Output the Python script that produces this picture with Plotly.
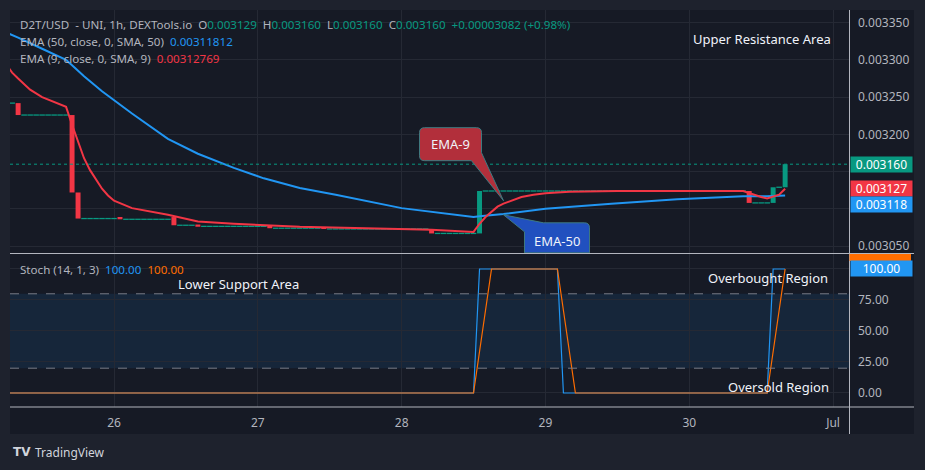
import pandas as pd
import plotly.graph_objects as go

# ---------------- data (hour index k, k=0 -> 25 Jun 08:00) ----------------
T0 = pd.Timestamp("2023-06-25 08:00")

bar_k = [0, 9, 10, 17, 26, 30, 42, 51, 69, 77, 122, 126, 128]
bar_open = [0.003242, 0.003226, 0.003122, 0.003088, 0.003089, 0.003079, 0.003077,
            0.003074, 0.003073, 0.003067, 0.003124, 0.003108, 0.003129]
bar_close = [0.003226, 0.003122, 0.003087, 0.003086, 0.003078, 0.003076, 0.003074,
             0.003073, 0.003067, 0.003124, 0.003108, 0.003129, 0.003160]

# flat (o=h=l=c) candle runs: first k, last k, price
flat_start = [-1, 1, 11, 18, 27, 31, 43, 52, 70, 78, 123, 127]
flat_end = [-1, 8, 16, 25, 29, 41, 50, 68, 76, 121, 125, 127]
flat_price = [0.003242, 0.003226, 0.003087, 0.003086, 0.003078, 0.0030765, 0.003074,
              0.003073, 0.003067, 0.003124, 0.003108, 0.003129]

ema9_k = [-2, -1, 0, 2, 4, 6, 8, 9, 10, 11, 12, 13, 14, 15, 16, 19, 25, 30, 36, 47, 60,
          69, 76, 77, 78, 79, 80, 81, 82, 84, 86, 88, 92, 100, 121, 122, 123, 124, 125,
          126, 127, 128]
ema9_v = [0.003294, 0.003283, 0.003275, 0.003260, 0.003250, 0.003243, 0.003237, 0.003213,
          0.003190, 0.003168, 0.003152, 0.003140, 0.003127, 0.003118, 0.003111, 0.003101,
          0.003092, 0.003083, 0.003080, 0.003076, 0.003074, 0.003072, 0.003069, 0.003080,
          0.003089, 0.003096, 0.003103, 0.003107, 0.003110, 0.003116, 0.003119, 0.003121,
          0.003123, 0.003124, 0.003124, 0.003121, 0.003118, 0.003116, 0.003114, 0.003117,
          0.003119, 0.003127]

ema50_k = [-2, -1, 0, 4, 8, 9, 11, 14, 19, 25, 30, 36, 41, 47, 53, 64, 70, 76, 77, 81, 88,
           99, 110, 121, 125, 128]
ema50_v = [0.003337, 0.003334, 0.003330, 0.003315, 0.003300, 0.003293, 0.003278, 0.003258,
           0.003228, 0.003194, 0.003174, 0.003155, 0.003141, 0.003128, 0.003119, 0.003101,
           0.003095, 0.003089, 0.003090, 0.003093, 0.003100, 0.003107, 0.003113, 0.003117,
           0.003117, 0.003118]

stoch_k_hours = [-2, 76, 77, 90, 91, 125, 126, 128]
stoch_k_vals = [0, 0, 100, 100, 0, 0, 100, 100]
stoch_d_hours = [-2, 76, 79, 90, 93, 125, 128]
stoch_d_vals = [0, 0, 100, 100, 0, 0, 100]

price_ticks = [0.003050, 0.003100, 0.003150, 0.003200, 0.003250, 0.003300, 0.003350]
price_tick_text = ["0.003050", "", "", "0.003200", "0.003250", "0.003300", "0.003350"]
stoch_ticks = [0, 25, 50, 75, 100]
stoch_tick_text = ["0.00", "25.00", "50.00", "75.00", ""]
day_ticks = ["2023-06-26", "2023-06-27", "2023-06-28", "2023-06-29", "2023-06-30", "2023-07-01"]
day_labels = ["26", "27", "28", "29", "30", "Jul"]

ema9_label_k, ema9_label_p = 81, 0.003111
ema50_label_k, ema50_label_p = 81, 0.003092

# ---------------- styling ----------------
UP, DN = "#089981", "#f23645"
BLUE, ORANGE = "#2196f3", "#ff6d00"
BG, OUTER = "#161a25", "#1e222d"
GRID = "#252934"
TXT = "#b2b5be"
FONT = "Noto Sans"


def t(k):
    return T0 + pd.Timedelta(hours=k)


def px(x):  # pixel -> paper (plot area x 10..849)
    return (x - 10) / 839


def py(y):  # pixel -> paper (plot area y 10..407)
    return (407 - y) / 397


fig = go.Figure()

# candles with bodies
fig.add_trace(go.Bar(
    x=[t(k) for k in bar_k], base=bar_open,
    y=[c - o for o, c in zip(bar_open, bar_close)],
    width=3.6e6 * 0.83,
    marker=dict(color=[UP if c >= o else DN for o, c in zip(bar_open, bar_close)],
                line=dict(width=0)),
    xaxis="x", yaxis="y", hoverinfo="skip"))

# flat candles
fx, fy = [], []
for s, e, p in zip(flat_start, flat_end, flat_price):
    for k in range(s, e + 1):
        fx.append(t(k))
        fy.append(p)
fig.add_trace(go.Scatter(
    x=fx, y=fy, mode="markers",
    marker=dict(symbol="line-ew", size=4, line=dict(width=1.3, color=UP), color=UP),
    xaxis="x", yaxis="y", hoverinfo="skip"))

fig.add_trace(go.Scatter(x=[t(k) for k in ema50_k], y=ema50_v, mode="lines",
                         line=dict(color=BLUE, width=2), xaxis="x", yaxis="y"))
fig.add_trace(go.Scatter(x=[t(k) for k in ema9_k], y=ema9_v, mode="lines",
                         line=dict(color=DN, width=2), xaxis="x", yaxis="y"))

fig.add_trace(go.Scatter(x=[t(k) for k in stoch_k_hours], y=stoch_k_vals, mode="lines",
                         line=dict(color=BLUE, width=1.2), xaxis="x2", yaxis="y2"))
fig.add_trace(go.Scatter(x=[t(k) for k in stoch_d_hours], y=stoch_d_vals, mode="lines",
                         line=dict(color=ORANGE, width=1.2), xaxis="x2", yaxis="y2"))

x_range = [t(-1.357), t(138.66)]
p_lo = 0.00335 - (253 - 22.7) * 1.3429e-6
p_hi = 0.00335 - (10 - 22.7) * 1.3429e-6
s_lo = (393 - 407) / 1.24
s_hi = (393 - 254) / 1.24

axis_common = dict(type="date", range=x_range, showgrid=True, gridcolor=GRID, gridwidth=1,
                   zeroline=False, showline=False, tickvals=day_ticks, ticktext=day_labels)

fig.update_layout(
    width=925, height=470,
    margin=dict(l=10, r=76, t=10, b=63),
    paper_bgcolor=OUTER, plot_bgcolor=BG,
    showlegend=False, hovermode=False, barmode="overlay",
    font=dict(family=FONT, size=12, color=TXT),
    xaxis=dict(axis_common, domain=[0, 1], anchor="y", showticklabels=False, matches="x2"),
    xaxis2=dict(axis_common, domain=[0, 1], anchor="y2", showticklabels=True,
                tickfont=dict(size=12, color=TXT), ticks="", ticklabelstandoff=7),
    yaxis=dict(domain=[0.3879, 1], anchor="x", side="right", range=[p_lo, p_hi],
               tickvals=price_ticks, ticktext=price_tick_text,
               showgrid=True, gridcolor=GRID, zeroline=False, ticks="",
               ticklabelstandoff=8, tickfont=dict(size=12, color=TXT)),
    yaxis2=dict(domain=[0, 0.3854], anchor="x2", side="right", range=[s_lo, s_hi],
                tickvals=stoch_ticks, ticktext=stoch_tick_text,
                showgrid=True, gridcolor=GRID, zeroline=False, ticks="",
                ticklabelstandoff=8, tickfont=dict(size=12, color=TXT)),
)

shapes = []
# inner panel
shapes.append(dict(type="rect", xref="paper", yref="paper", x0=px(10), x1=px(914),
                   y0=py(434), y1=py(10), fillcolor=BG, line=dict(width=0), layer="below"))
# stoch band and levels
shapes.append(dict(type="rect", xref="x2 domain", yref="y2", x0=0, x1=1, y0=20, y1=80,
                   fillcolor="rgba(33,150,243,0.10)", line=dict(width=0), layer="below"))
for lvl in (80, 20):
    shapes.append(dict(type="line", xref="x2 domain", yref="y2", x0=0, x1=1, y0=lvl, y1=lvl,
                       line=dict(color="#787b86", width=1, dash="dash")))
# last price dotted line
shapes.append(dict(type="line", xref="x domain", yref="y", x0=0, x1=1,
                   y0=bar_close[-1], y1=bar_close[-1],
                   line=dict(color=UP, width=1, dash="dot")))
# pane separators / axis lines
SEP = "#b2b5be"
shapes.append(dict(type="line", xref="paper", yref="paper", x0=px(10), x1=px(914),
                   y0=py(253.5), y1=py(253.5), line=dict(color=SEP, width=1)))
shapes.append(dict(type="line", xref="paper", yref="paper", x0=px(10), x1=px(914),
                   y0=py(407), y1=py(407), line=dict(color=SEP, width=1)))
shapes.append(dict(type="line", xref="paper", yref="paper", x0=px(849.5), x1=px(849.5),
                   y0=py(434), y1=py(10), line=dict(color=SEP, width=1)))
# callouts (pixel paths anchored at the EMA points)
shapes.append(dict(type="path", xref="x", yref="y", xsizemode="pixel", ysizemode="pixel",
                   xanchor=t(ema9_label_k), yanchor=ema9_label_p,
                   path="M -79,73 L -27,73 Q -22,73 -22,68 L -22,48 L 0,0 L -32,40 "
                        "L -79,40 Q -84,40 -84,45 L -84,68 Q -84,73 -79,73 Z",
                   fillcolor="#b22f3b", line=dict(color="#3f7a80", width=1)))
shapes.append(dict(type="path", xref="x", yref="y", xsizemode="pixel", ysizemode="pixel",
                   xanchor=t(ema50_label_k), yanchor=ema50_label_p,
                   path="M 0,0 L 40,-8 L 81,-8 Q 86,-8 86,-13 L 86,-38 L 21,-38 L 21,-17 Z",
                   fillcolor="#2150bf", line=dict(color="#3f7a80", width=1)))
# orange stoch tag (mostly hidden)
shapes.append(dict(type="rect", xref="paper", yref="paper", x0=px(849.5), x1=px(911),
                   y0=py(261), y1=py(254), fillcolor=ORANGE, line=dict(width=0)))
fig.update_layout(shapes=shapes)

ann = []
G = lambda s: f"<span style='color:{UP}'>{s}</span>"
hdr = ("D2T/USD&nbsp;&nbsp;- UNI, 1h, DEXTools.io&nbsp;&nbsp;O" + G("0.003129") +
       "&nbsp;&nbsp;H" + G("0.003160") + "&nbsp;&nbsp;L" + G("0.003160") +
       "&nbsp;&nbsp;C" + G("0.003160") + "&nbsp;&nbsp;" + G("+0.00003082 (+0.98%)"))
ann.append(dict(text=hdr, x=px(18), y=py(24)))
ann.append(dict(text="EMA (50, close, 0, SMA, 50)&nbsp;&nbsp;"
                     f"<span style='color:{BLUE}'>0.00311812</span>", x=px(18), y=py(42)))
ann.append(dict(text="EMA (9, close, 0, SMA, 9)&nbsp;&nbsp;"
                     f"<span style='color:{DN}'>0.00312769</span>", x=px(18), y=py(59)))
ann.append(dict(text=f"Stoch (14, 1, 3)&nbsp;&nbsp;<span style='color:{BLUE}'>100.00</span>"
                     f"&nbsp;&nbsp;<span style='color:{ORANGE}'>100.00</span>",
                x=px(18), y=py(269)))
for a in ann:
    a.update(xref="paper", yref="paper", xanchor="left", yanchor="middle", showarrow=False,
             font=dict(family=FONT, size=11.6, color=TXT))

W = "#f0f3fa"
for txt, x, y in [("Upper Resistance Area", 762, 39), ("Lower Support Area", 238, 284),
                  ("Overbought Region", 768, 278), ("Oversold Region", 778, 387)]:
    ann.append(dict(text=txt, x=px(x), y=py(y), xref="paper", yref="paper", showarrow=False,
                    xanchor="center", yanchor="middle", font=dict(family=FONT, size=13, color=W)))

ann.append(dict(text="EMA-9", x=t(ema9_label_k), y=ema9_label_p, xref="x", yref="y",
                xshift=-53, yshift=56.5, showarrow=False, font=dict(family=FONT, size=13, color=W)))
ann.append(dict(text="EMA-50", x=t(ema50_label_k), y=ema50_label_p, xref="x", yref="y",
                xshift=53.5, yshift=-26, showarrow=False, font=dict(family=FONT, size=13, color=W)))

# price tags
for val, col, shift, yr in [(bar_close[-1], UP, 0, "y"), (0.003127, DN, 0, "y"),
                            (0.003118, BLUE, -9, "y"), (100, BLUE, 0, "y2")]:
    txt = f"{val:.6f}" if yr == "y" else f"{val:.2f}"
    ann.append(dict(text=txt, x=px(849.5), y=val, xref="paper", yref=yr, yshift=shift,
                    xanchor="left", yanchor="middle", showarrow=False, bgcolor=col,
                    width=61, height=15, borderpad=0,
                    font=dict(family=FONT, size=12, color="#ffffff")))

# TradingView logo
ann.append(dict(text="<b>TV</b>", x=px(11), y=py(452), xref="paper", yref="paper",
                xanchor="left", yanchor="middle", showarrow=False,
                font=dict(family="DejaVu Sans", size=12, color="#d1d4dc")))
ann.append(dict(text="TradingView", x=px(33), y=py(452), xref="paper", yref="paper",
                xanchor="left", yanchor="middle", showarrow=False,
                font=dict(family=FONT, size=12, color="#d1d4dc")))
fig.update_layout(annotations=ann)

fig.write_html("out.html")
